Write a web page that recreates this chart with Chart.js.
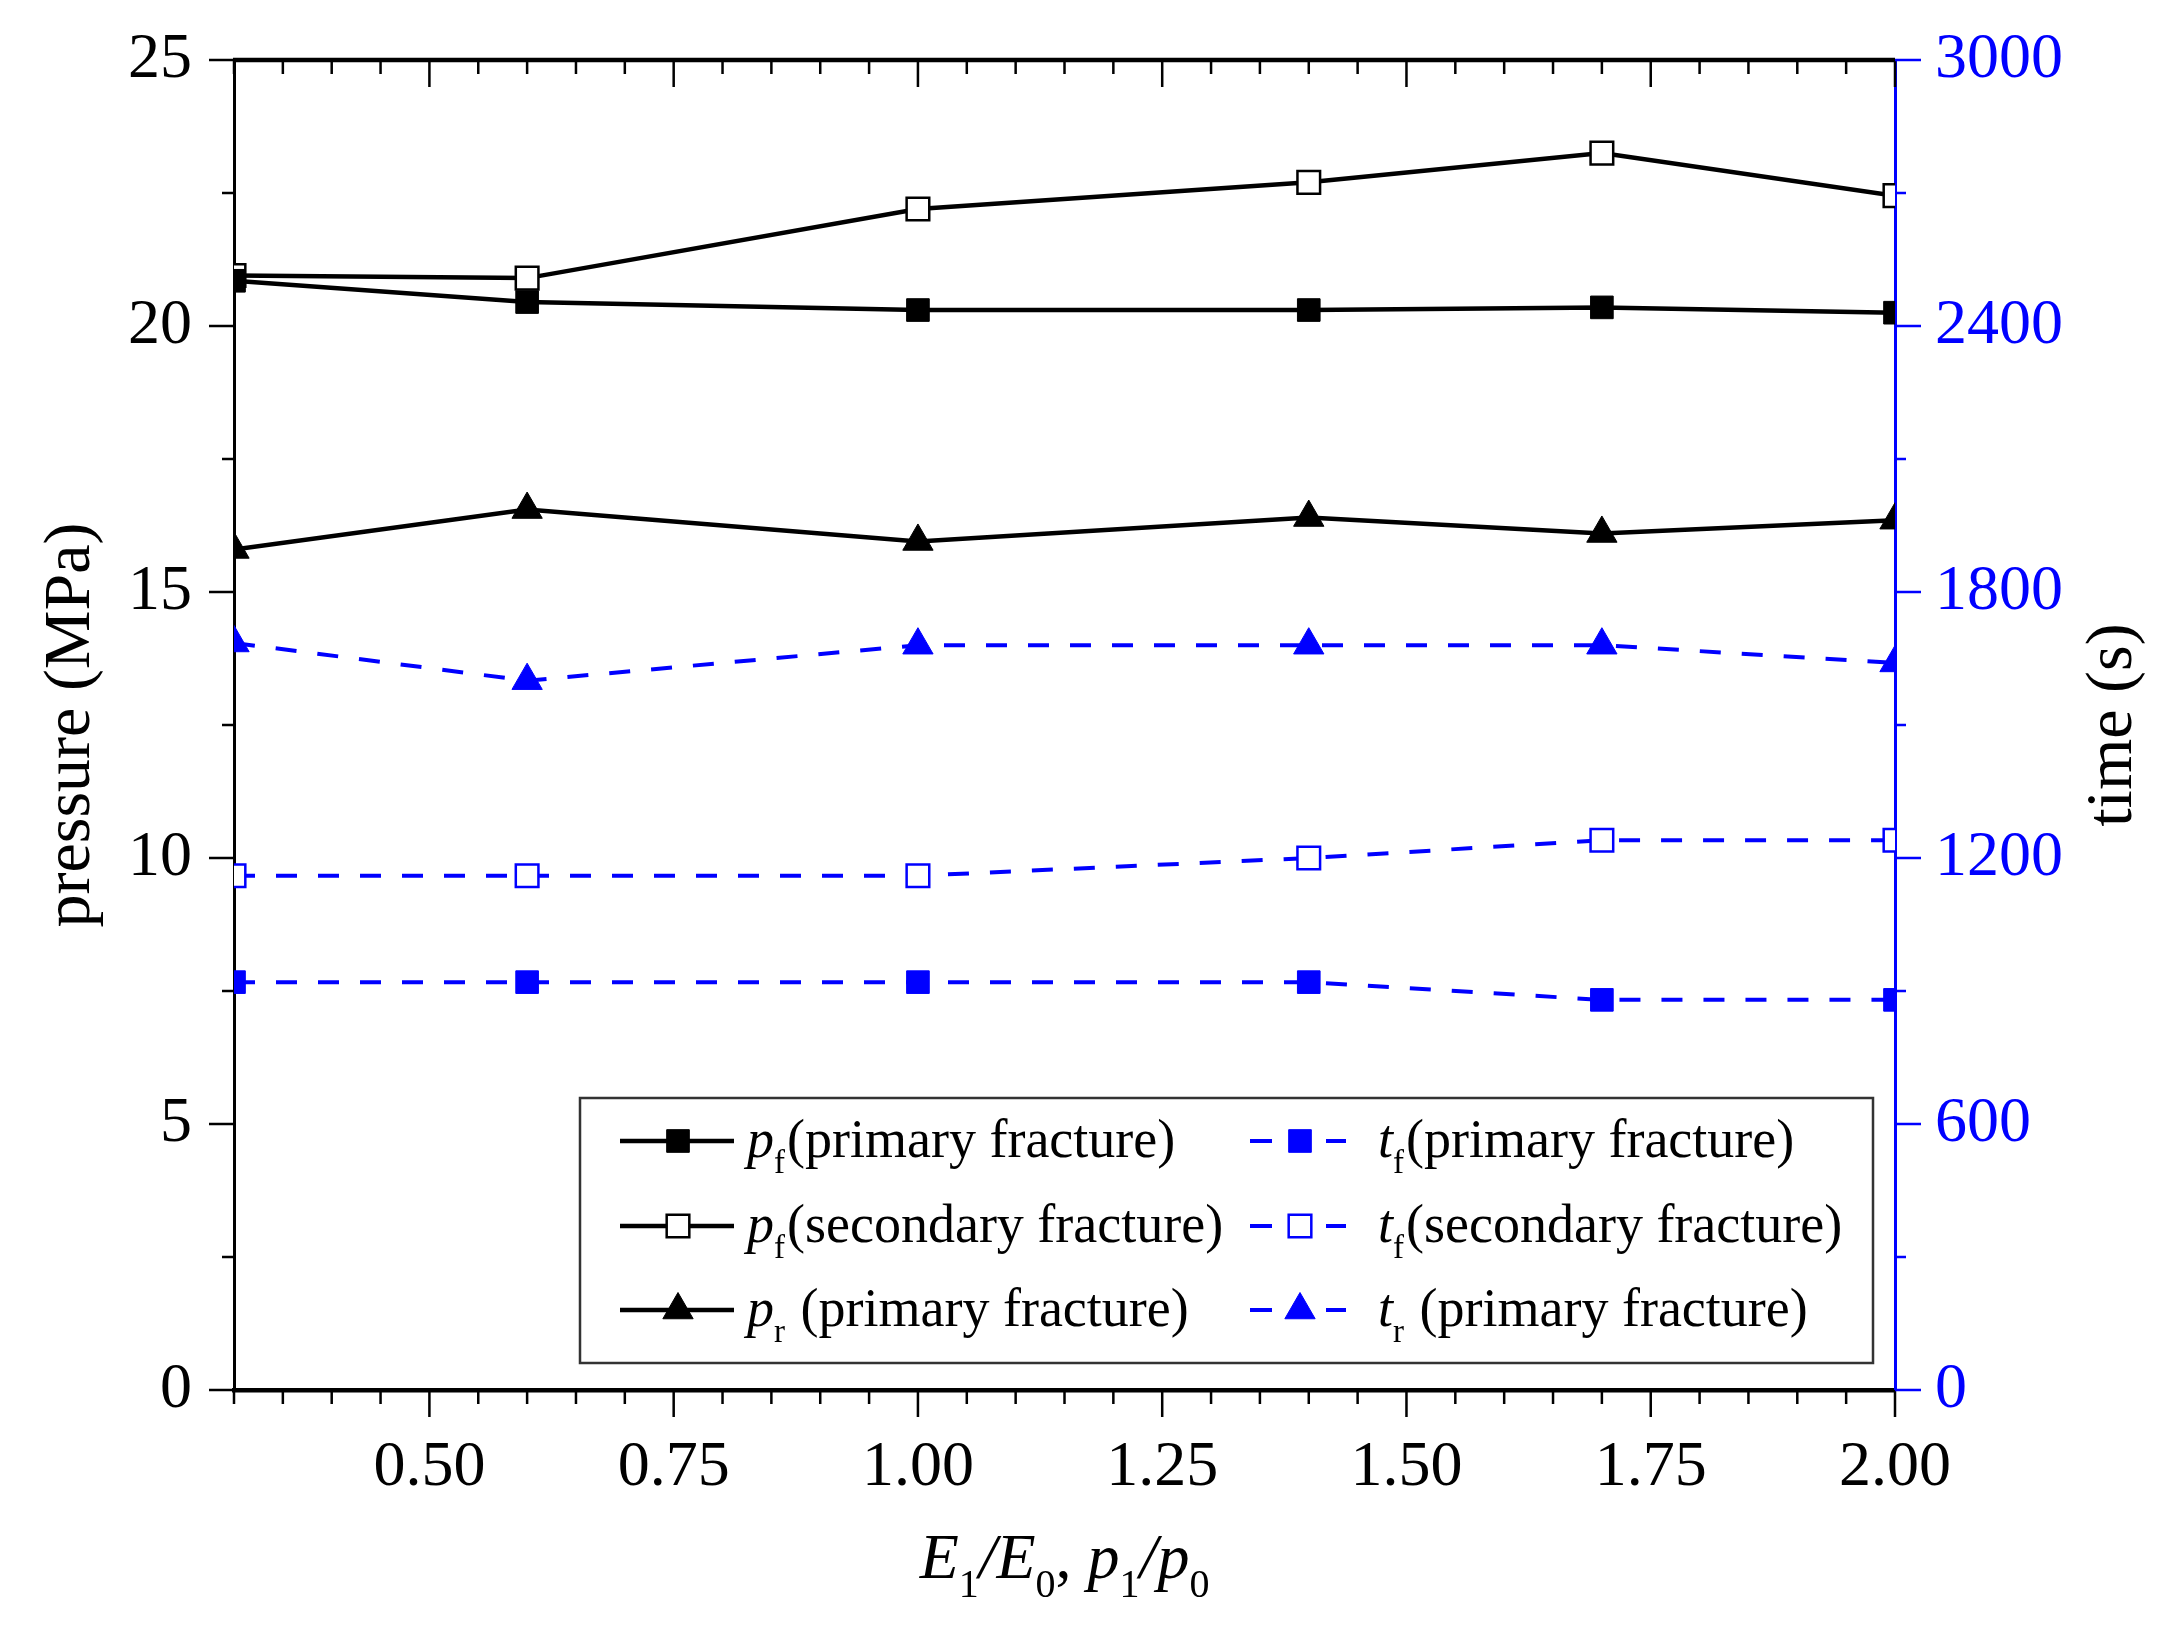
<!DOCTYPE html>
<html>
<head>
<meta charset="utf-8">
<script src="https://cdn.jsdelivr.net/npm/chart.js@4.4.0/dist/chart.umd.min.js"></script>
<style>
  html, body { margin: 0; background: #fff; }
</style>
</head>
<body>
<canvas id="graph" width="2182" height="1637"></canvas>
<script>
const xValues = [0.3, 0.6, 1.0, 1.4, 1.7, 2.0];

// pressure (MPa)
const pfPrimary = [20.85, 20.45, 20.3, 20.3, 20.35, 20.25];
const pfSecondary = [20.95, 20.9, 22.2, 22.7, 23.25, 22.45];
const prPrimary = [15.8, 16.55, 15.95, 16.4, 16.1, 16.35];

// time (s)
const tfPrimary = [920, 920, 920, 920, 880, 880];
const tfSecondary = [1160, 1160, 1160, 1200, 1240, 1240];
const trPrimary = [1685, 1600, 1680, 1680, 1680, 1640];

const xTickLabels = [0.5, 0.75, 1.0, 1.25, 1.5, 1.75, 2.0];
const pressureTicks = [0, 5, 10, 15, 20, 25];
const timeTicks = [0, 600, 1200, 1800, 2400, 3000];

const legendSymbols = ["p", "p", "p", "t", "t", "t"];
const legendSubs = ["f", "f", "r", "f", "f", "r"];
const legendTexts = ["(primary fracture)", "(secondary fracture)", " (primary fracture)",
                     "(primary fracture)", "(secondary fracture)", " (primary fracture)"];

const BLACK = "#000000";
const BLUE = "#0000ff";
const SERIF = '"Liberation Serif", "Times New Roman", serif';

function series(values, axis, color, style, filled, dashed) {
  return {
    data: xValues.map((x, i) => ({ x: x, y: values[i] })),
    yAxisID: axis,
    borderColor: color,
    borderWidth: dashed ? 4 : 4.5,
    borderDash: dashed ? [21, 21] : [],
    pointStyle: style,
    pointRadius: style === "triangle" ? 17.5 : 16,
    pointBackgroundColor: filled ? color : "#ffffff",
    pointBorderColor: color,
    pointBorderWidth: filled ? 1 : 2.5,
    tension: 0,
    clip: 0,
  };
}

const datasets = [
  series(pfPrimary, "y", BLACK, "rect", true, false),
  series(pfSecondary, "y", BLACK, "rect", false, false),
  series(prPrimary, "y", BLACK, "triangle", true, false),
  series(tfPrimary, "y1", BLUE, "rect", true, true),
  series(tfSecondary, "y1", BLUE, "rect", false, true),
  series(trPrimary, "y1", BLUE, "triangle", true, true),
];

// text with italic letters and subscripts
function drawRich(ctx, parts, x, baseline, size, dry) {
  let cx = x;
  for (const p of parts) {
    const s = p.sub ? size * 0.62 : size;
    ctx.font = (p.it ? "italic " : "") + Math.round(s) + "px " + SERIF;
    if (!dry) ctx.fillText(p.t, cx, baseline + (p.sub ? size * 0.3 : 0));
    cx += ctx.measureText(p.t).width + (p.gap || 0);
  }
  return cx - x;
}

function marker(ctx, ds, x, y) {
  ctx.save();
  ctx.setLineDash([]);
  ctx.fillStyle = ds.pointBackgroundColor;
  ctx.strokeStyle = ds.pointBorderColor;
  ctx.lineWidth = ds.pointBorderWidth;
  Chart.helpers.drawPoint(ctx, {
    pointStyle: ds.pointStyle, rotation: 0,
    radius: ds.pointRadius, borderWidth: ds.pointBorderWidth,
  }, x, y);
  ctx.restore();
}

const decorations = {
  id: "decorations",
  afterDraw(chart) {
    const { ctx, chartArea: a, scales } = chart;
    ctx.save();

    // tick marks
    ctx.strokeStyle = BLACK;
    ctx.lineWidth = 2.5;
    ctx.beginPath();
    for (let i = 6; i <= 40; i++) {
      const px = scales.x.getPixelForValue(i * 0.05);
      const len = i % 5 === 0 ? 27 : 14;
      ctx.moveTo(px, a.bottom);
      ctx.lineTo(px, a.bottom + len);
      ctx.moveTo(px, a.top);
      ctx.lineTo(px, a.top + len);
    }
    for (let i = 0; i <= 10; i++) {
      const py = scales.y.getPixelForValue(i * 2.5);
      const len = i % 2 === 0 ? 25 : 12;
      ctx.moveTo(a.left, py);
      ctx.lineTo(a.left - len, py);
    }
    ctx.stroke();
    ctx.lineWidth = 4.5;
    ctx.beginPath();
    ctx.moveTo(a.left - 1, a.top);
    ctx.lineTo(a.right, a.top);
    ctx.stroke();

    ctx.strokeStyle = BLUE;
    ctx.lineWidth = 2.5;
    ctx.beginPath();
    for (let i = 0; i <= 10; i++) {
      const py = scales.y1.getPixelForValue(i * 300);
      const len = i % 2 === 0 ? 26 : 11;
      ctx.moveTo(a.right, py);
      ctx.lineTo(a.right + len, py);
    }
    ctx.stroke();

    // axis titles
    ctx.fillStyle = BLACK;
    ctx.font = "66px " + SERIF;
    ctx.textAlign = "center";
    ctx.textBaseline = "middle";
    const midY = (a.top + a.bottom) / 2;
    ctx.save();
    ctx.translate(72, midY);
    ctx.rotate(-Math.PI / 2);
    ctx.fillText("pressure (MPa)", 0, 0);
    ctx.restore();
    ctx.save();
    ctx.translate(2114, midY);
    ctx.rotate(-Math.PI / 2);
    ctx.fillText("time (s)", 0, 0);
    ctx.restore();

    ctx.textAlign = "left";
    ctx.textBaseline = "alphabetic";
    const xTitle = [
      { t: "E", it: true }, { t: "1", sub: true }, { t: "/", it: true },
      { t: "E", it: true }, { t: "0", sub: true }, { t: ", " },
      { t: "p", it: true }, { t: "1", sub: true }, { t: "/", it: true },
      { t: "p", it: true }, { t: "0", sub: true },
    ];
    const w = drawRich(ctx, xTitle, 0, 0, 64, true);
    drawRich(ctx, xTitle, (a.left + a.right) / 2 - w / 2, 1578, 64, false);

    // legend
    ctx.fillStyle = "#ffffff";
    ctx.fillRect(580, 1098, 1293, 265);
    ctx.strokeStyle = "#333333";
    ctx.lineWidth = 2.5;
    ctx.strokeRect(580, 1098, 1293, 265);

    const rows = [1157, 1242, 1326];
    chart.data.datasets.forEach((ds, i) => {
      const col = i < 3 ? 0 : 1;
      const base = rows[i % 3];
      const my = base - 16;
      ctx.strokeStyle = ds.borderColor;
      ctx.lineWidth = ds.borderWidth;
      ctx.setLineDash([]);
      ctx.beginPath();
      if (col === 0) {
        ctx.moveTo(620, my);
        ctx.lineTo(734, my);
        ctx.stroke();
        marker(ctx, ds, 678, my);
      } else {
        ctx.moveTo(1250, my);
        ctx.lineTo(1272, my);
        ctx.moveTo(1326, my);
        ctx.lineTo(1346, my);
        ctx.stroke();
        marker(ctx, ds, 1300, my);
      }
      ctx.fillStyle = BLACK;
      drawRich(ctx, [
        { t: legendSymbols[i], it: true },
        { t: legendSubs[i], sub: true, gap: 2 },
        { t: legendTexts[i] },
      ], col === 0 ? 747 : 1378, base, 53.5, false);
    });

    ctx.restore();
  },
};

const tickFont = { family: SERIF, size: 64 };

// fixed axis sizes so the plot area sits where the reference has it
function fitVertical(width) {
  return (scale) => {
    scale.width = width;
    scale.paddingTop = 0;
    scale.paddingBottom = 0;
  };
}

const config = {
  type: "line",
  data: { datasets },
  options: {
    responsive: false,
    animation: false,
    layout: { padding: { top: 60, left: 0, right: 0, bottom: 0 } },
    plugins: {
      legend: { display: false },
      tooltip: { enabled: false },
    },
    scales: {
      x: {
        type: "linear",
        min: 0.3,
        max: 2.0,
        afterBuildTicks: (scale) => { scale.ticks = xTickLabels.map((v) => ({ value: v })); },
        afterFit: (scale) => {
          scale.height = 247;
          scale.paddingLeft = 0;
          scale.paddingRight = 0;
        },
        grid: { display: false, drawTicks: false },
        border: { display: true, color: BLACK, width: 4.5 },
        ticks: {
          autoSkip: false,
          maxRotation: 0,
          padding: 40,
          color: BLACK,
          font: tickFont,
          callback: (v) => Number(v).toFixed(2),
        },
      },
      y: {
        type: "linear",
        position: "left",
        min: 0,
        max: 25,
        afterBuildTicks: (scale) => { scale.ticks = pressureTicks.map((v) => ({ value: v })); },
        afterFit: fitVertical(234),
        grid: { display: false, drawTicks: false },
        border: { display: true, color: BLACK, width: 3 },
        ticks: { padding: 42, color: BLACK, font: tickFont, callback: (v) => String(v) },
      },
      y1: {
        type: "linear",
        position: "right",
        min: 0,
        max: 3000,
        afterBuildTicks: (scale) => { scale.ticks = timeTicks.map((v) => ({ value: v })); },
        afterFit: fitVertical(287),
        grid: { display: false, drawTicks: false },
        border: { display: true, color: BLUE, width: 3 },
        ticks: { padding: 40, color: BLUE, font: tickFont, callback: (v) => String(v) },
      },
    },
  },
  plugins: [decorations],
};

const graphic = new Chart(document.getElementById("graph"), config);
</script>
</body>
</html>
